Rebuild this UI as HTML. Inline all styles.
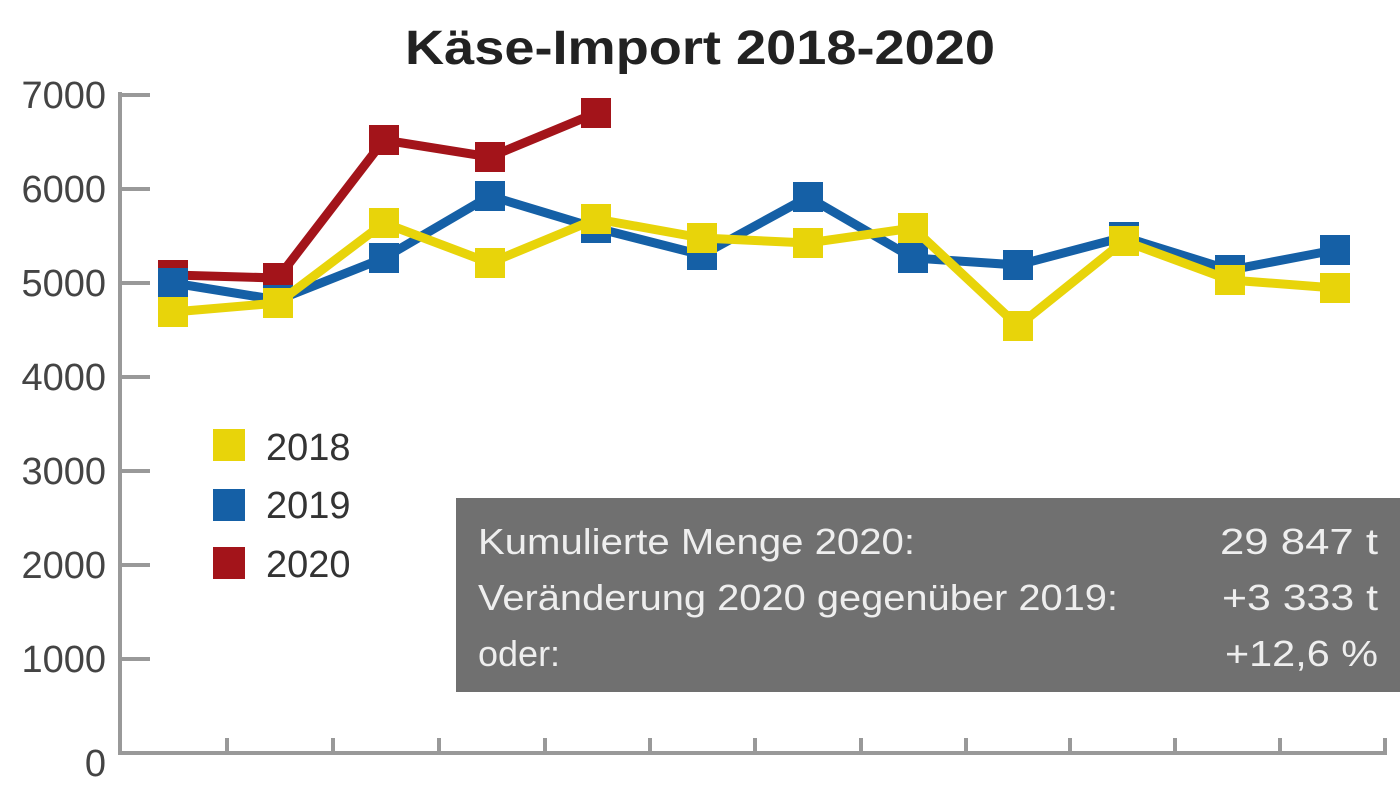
<!DOCTYPE html>
<html><head><meta charset="utf-8"><style>
body{margin:0;background:#fff;width:1400px;height:786px;overflow:hidden}
svg text{font-family:"Liberation Sans Narrow","Liberation Sans",sans-serif}
</style></head><body>
<svg width="1400" height="786" viewBox="0 0 1400 786">
<text x="405" y="64" font-size="48" font-weight="bold" fill="#222" textLength="590" lengthAdjust="spacingAndGlyphs">Käse-Import 2018-2020</text>
<g stroke="#999" stroke-width="4" fill="none">
<line x1="120" y1="92" x2="120" y2="755"/>
<line x1="120" y1="753" x2="1387" y2="753"/>
<line x1="120" y1="95" x2="150" y2="95"/><line x1="120" y1="189" x2="150" y2="189"/><line x1="120" y1="283" x2="150" y2="283"/><line x1="120" y1="377" x2="150" y2="377"/><line x1="120" y1="471" x2="150" y2="471"/><line x1="120" y1="565" x2="150" y2="565"/><line x1="120" y1="659" x2="150" y2="659"/>
<line x1="227" y1="738" x2="227" y2="753"/><line x1="333" y1="738" x2="333" y2="753"/><line x1="439" y1="738" x2="439" y2="753"/><line x1="545" y1="738" x2="545" y2="753"/><line x1="650" y1="738" x2="650" y2="753"/><line x1="755" y1="738" x2="755" y2="753"/><line x1="861" y1="738" x2="861" y2="753"/><line x1="966" y1="738" x2="966" y2="753"/><line x1="1070" y1="738" x2="1070" y2="753"/><line x1="1175" y1="738" x2="1175" y2="753"/><line x1="1280" y1="738" x2="1280" y2="753"/><line x1="1385" y1="738" x2="1385" y2="753"/>
</g>
<g font-size="38" fill="#444" text-anchor="end">
<text x="106" y="108">7000</text><text x="106" y="202">6000</text><text x="106" y="296">5000</text><text x="106" y="390">4000</text><text x="106" y="484">3000</text><text x="106" y="578">2000</text><text x="106" y="672">1000</text><text x="106" y="776">0</text>
</g>
<defs>
<g id="m"><rect x="-15" y="-15" width="30" height="30"/></g>
</defs>
<g fill="#a3141a" stroke="#a3141a">
<polyline fill="none" stroke-width="9" points="173,275 278,278 384,140 490,157 596,113"/>
<g stroke="none"><use href="#m" x="173" y="275"/><use href="#m" x="278" y="278"/><use href="#m" x="384" y="140"/><use href="#m" x="490" y="157"/><use href="#m" x="596" y="113"/></g>
</g>
<g fill="#1560a6" stroke="#1560a6">
<polyline fill="none" stroke-width="9" points="173,283 278,300 384,258 490,196 596,228 702,255 808,197 913,258 1018,265 1124,237 1230,270 1335,250"/>
<g stroke="none"><use href="#m" x="173" y="283"/><use href="#m" x="278" y="300"/><use href="#m" x="384" y="258"/><use href="#m" x="490" y="196"/><use href="#m" x="596" y="228"/><use href="#m" x="702" y="255"/><use href="#m" x="808" y="197"/><use href="#m" x="913" y="258"/><use href="#m" x="1018" y="265"/><use href="#m" x="1124" y="237"/><use href="#m" x="1230" y="270"/><use href="#m" x="1335" y="250"/></g>
</g>
<g fill="#e8d40a" stroke="#e8d40a">
<polyline fill="none" stroke-width="9" points="173,312 278,303 384,223 490,263 596,219 702,238 808,243 913,228 1018,326 1124,241 1230,280 1335,288"/>
<g stroke="none"><use href="#m" x="173" y="312"/><use href="#m" x="278" y="303"/><use href="#m" x="384" y="223"/><use href="#m" x="490" y="263"/><use href="#m" x="596" y="219"/><use href="#m" x="702" y="238"/><use href="#m" x="808" y="243"/><use href="#m" x="913" y="228"/><use href="#m" x="1018" y="326"/><use href="#m" x="1124" y="241"/><use href="#m" x="1230" y="280"/><use href="#m" x="1335" y="288"/></g>
</g>
<rect x="213" y="429" width="32" height="32" fill="#e8d40a"/>
<rect x="213" y="489" width="32" height="32" fill="#1560a6"/>
<rect x="213" y="547" width="32" height="32" fill="#a3141a"/>
<g font-size="38" fill="#333"><text x="266" y="460">2018</text><text x="266" y="518">2019</text><text x="266" y="577">2020</text></g>
<rect x="456" y="498" width="944" height="194" fill="#707070"/>
<g font-size="36" fill="#eee">
<text x="478" y="554" textLength="437" lengthAdjust="spacingAndGlyphs">Kumulierte Menge 2020:</text>
<text x="478" y="610" textLength="640" lengthAdjust="spacingAndGlyphs">Veränderung 2020 gegenüber 2019:</text>
<text x="478" y="666">oder:</text>
<text x="1220" y="554" textLength="158" lengthAdjust="spacingAndGlyphs">29 847 t</text>
<text x="1222" y="610" textLength="156" lengthAdjust="spacingAndGlyphs">+3 333 t</text>
<text x="1225" y="666" textLength="153" lengthAdjust="spacingAndGlyphs">+12,6 %</text>
</g>
</svg>
</body></html>
